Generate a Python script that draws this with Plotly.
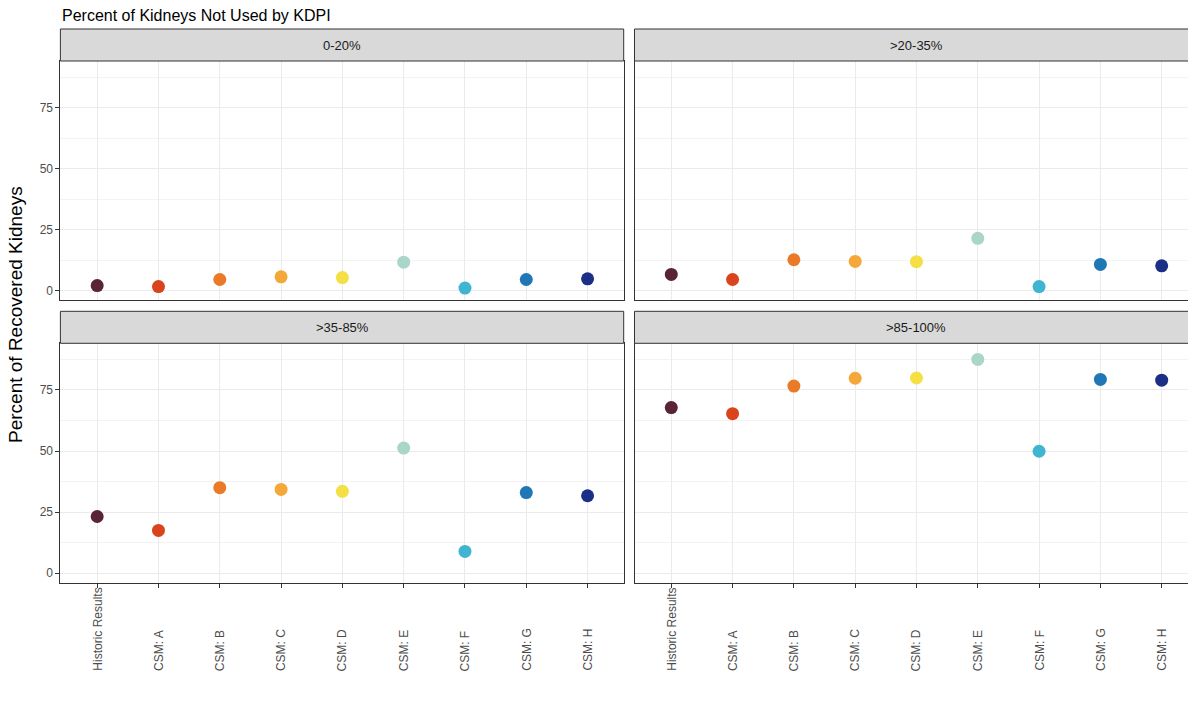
import plotly.graph_objects as go

# Categories (x axis)
methods = ["Historic Results", "CSM: A", "CSM: B", "CSM: C", "CSM: D",
           "CSM: E", "CSM: F", "CSM: G", "CSM: H"]

# KDPI groups (facet panels)
kdpi_groups = ["0-20%", ">20-35%", ">35-85%", ">85-100%"]

# Percent of recovered kidneys not used, per KDPI group
pct_0_20 = [2.0, 1.6, 4.5, 5.6, 5.3, 11.6, 1.0, 4.5, 4.8]
pct_20_35 = [6.6, 4.5, 12.6, 11.9, 11.8, 21.4, 1.6, 10.7, 10.1]
pct_35_85 = [23.2, 17.5, 35.0, 34.3, 33.5, 51.2, 8.9, 33.0, 31.7]
pct_85_100 = [67.8, 65.3, 76.6, 79.8, 79.9, 87.5, 49.9, 79.3, 79.0]

# Point colour per method
method_colors = ["#5a2435", "#d9441c", "#ea7a28", "#f5a83a", "#f4df45",
                 "#a9d6c9", "#3fb5d1", "#1f77b6", "#1b2f86"]

y_ticks = [0, 25, 50, 75]

W, H = 1188, 708
FONT = "Liberation Sans, Arial, sans-serif"


def px_x(p):
    return p / W


def px_y(p):
    return 1 - p / H


# Panel geometry in pixels: (left, right, top, bottom)
cat_step = 61.3
panel_w = 563.3
panels = [
    (60.4, 623.7, 61.0, 300.0),
    (634.5, 1188.0, 61.0, 300.0),
    (60.4, 623.7, 343.3, 582.7),
    (634.5, 1188.0, 343.3, 582.7),
]
strip_h = 32.0
series = [pct_0_20, pct_20_35, pct_35_85, pct_85_100]
positions = list(range(1, len(methods) + 1))

fig = go.Figure()
layout = {}
shapes = []
annotations = []

for i, (vals, grp, (l, r, t, b)) in enumerate(zip(series, kdpi_groups, panels)):
    n = i + 1
    xa = "x" if n == 1 else f"x{n}"
    ya = "y" if n == 1 else f"y{n}"
    fig.add_trace(go.Scatter(
        x=positions, y=vals,
        mode="markers",
        marker=dict(size=13, color=method_colors, line=dict(width=0)),
        xaxis=xa, yaxis=ya, showlegend=False,
        hovertext=methods, hoverinfo="text+y",
    ))
    bottom_row = i >= 2
    left_col = i % 2 == 0
    x_hi = 0.4 + (r - l) / cat_step
    layout["xaxis" if n == 1 else f"xaxis{n}"] = dict(
        domain=[px_x(l), px_x(r)],
        anchor=ya,
        range=[0.4, x_hi],
        tickvals=positions,
        showticklabels=False,
        ticks="outside" if bottom_row else "",
        ticklen=4, tickcolor="#333333", tickwidth=1,
        showgrid=True, gridcolor="#ebebeb", gridwidth=1,
        showline=True, linecolor="#333333", linewidth=1, mirror=True,
        zeroline=False, fixedrange=True,
    )
    layout["yaxis" if n == 1 else f"yaxis{n}"] = dict(
        domain=[px_y(b), px_y(t)],
        anchor=xa,
        range=[-3.9, 94.1],
        tickvals=y_ticks,
        showticklabels=left_col,
        ticks="outside" if left_col else "",
        ticklen=4, tickcolor="#333333", tickwidth=1,
        tickfont=dict(family=FONT, size=12, color="#4d4d4d"),
        showgrid=True, gridcolor="#ebebeb", gridwidth=1,
        minor=dict(showgrid=True, gridcolor="#f3f3f3", gridwidth=0.6,
                   tickvals=[12.5, 37.5, 62.5, 87.5]),
        showline=True, linecolor="#333333", linewidth=1, mirror=True,
        zeroline=False, fixedrange=True,
    )
    # facet strip
    shapes.append(dict(
        type="rect", xref="paper", yref="paper",
        x0=px_x(l), x1=px_x(r) + (0.01 if r >= W else 0),
        y0=px_y(t), y1=px_y(t - strip_h),
        fillcolor="#d9d9d9", line=dict(color="#333333", width=1),
        layer="above",
    ))
    annotations.append(dict(
        text=grp, xref="paper", yref="paper",
        x=px_x(l + panel_w / 2), y=px_y(t - strip_h / 2),
        xanchor="center", yanchor="middle", showarrow=False,
        font=dict(family=FONT, size=13, color="#1a1a1a"),
    ))
    # rotated category labels under the bottom panels, aligned at their start
    if bottom_row:
        for pos, name in zip(positions, methods):
            annotations.append(dict(
                text=name, xref=xa, yref="paper",
                x=pos, y=px_y(673), xanchor="center", yanchor="bottom",
                textangle=-90, showarrow=False,
                font=dict(family=FONT, size=12, color="#4d4d4d"),
            ))

annotations.append(dict(
    text="Percent of Kidneys Not Used by KDPI", xref="paper", yref="paper",
    x=px_x(60), y=px_y(5), xanchor="left", yanchor="top", showarrow=False,
    font=dict(family=FONT, size=16, color="#000000"),
))
annotations.append(dict(
    text="Percent of Recovered Kidneys", xref="paper", yref="paper",
    x=px_x(16), y=px_y(315), xanchor="center", yanchor="middle",
    textangle=-90, showarrow=False,
    font=dict(family=FONT, size=19, color="#000000"),
))

fig.update_layout(
    width=W, height=H,
    margin=dict(l=0, r=0, t=0, b=0),
    paper_bgcolor="white", plot_bgcolor="white",
    shapes=shapes, annotations=annotations,
    font=dict(family=FONT),
    **layout,
)

fig.write_html("out.html")
